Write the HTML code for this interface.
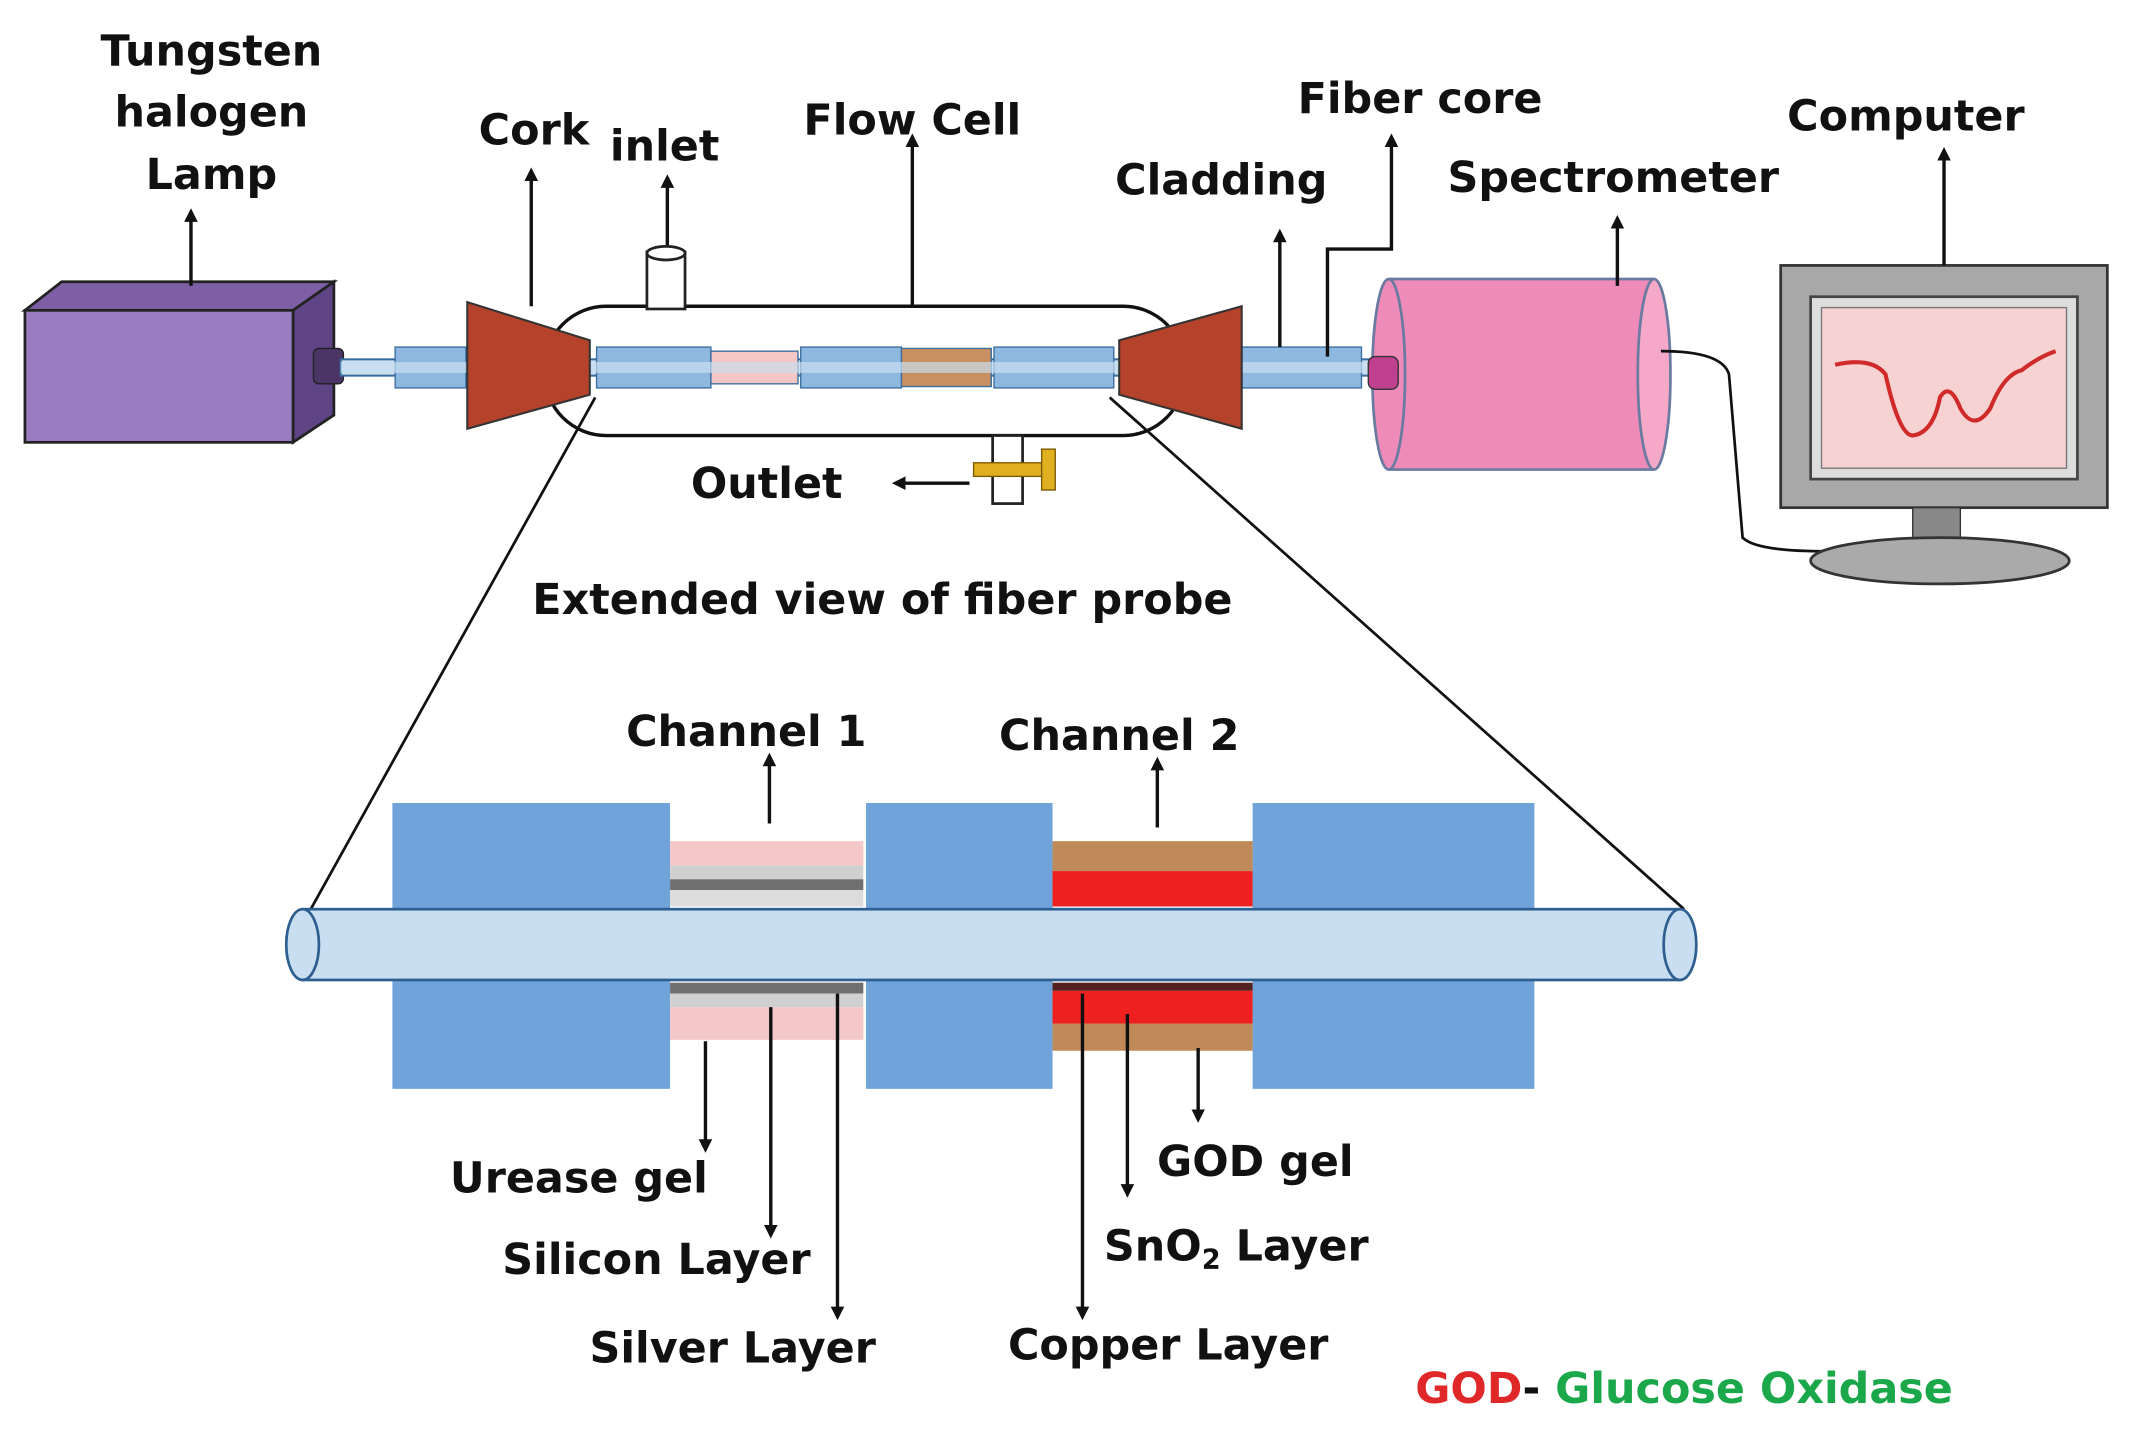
<!DOCTYPE html>
<html><head><meta charset="utf-8"><style>
html,body{margin:0;padding:0;background:#fff;}
svg{display:block}
text{font-family:"DejaVu Sans","Liberation Sans",sans-serif;font-weight:bold;fill:#111;font-size:31.5px}
</style></head><body>
<svg width="2135" height="1440" viewBox="0 0 1568 1058" xmlns="http://www.w3.org/2000/svg">
<defs>
<marker id="a" markerWidth="10" markerHeight="10" refX="5" refY="5" orient="auto" markerUnits="userSpaceOnUse"><path d="M0,0 L10,5 L0,10 z" fill="#111"/></marker>
</defs>
<rect width="1568" height="1058" fill="#fff"/>
<polygon points="18,228 45,207 245,207 215,228" fill="#7e5fa6" stroke="#222" stroke-width="2"/>
<polygon points="215,228 245,207 245,305 215,325" fill="#5f4585" stroke="#222" stroke-width="2"/>
<rect x="18" y="228" width="197" height="97" fill="#9a7cc0" stroke="#222" stroke-width="2"/>
<rect x="230" y="256" width="22" height="26" rx="4" fill="#4a3566" stroke="#222"/>
<rect x="400" y="225" width="470" height="95" rx="45" fill="#fff" stroke="#111" stroke-width="2.5"/>
<rect x="250" y="264" width="760" height="12" fill="#c9def0" stroke="#3a6ea0" stroke-width="1.5"/>
<rect x="475" y="185" width="28" height="42" fill="#fff" stroke="#222" stroke-width="2"/>
<ellipse cx="489" cy="186" rx="14" ry="5" fill="#fff" stroke="#222" stroke-width="2"/>
<rect x="729" y="320" width="22" height="50" fill="#fff" stroke="#222" stroke-width="2"/>
<rect x="715" y="340" width="50" height="10" fill="#e0b020" stroke="#7a5a00"/>
<rect x="765" y="330" width="10" height="30" fill="#e0b020" stroke="#7a5a00"/>
<g stroke="#3a6ea0" stroke-width="1">
<rect x="290" y="255" width="52" height="30" fill="#8fb8e0"/>
<rect x="438" y="255" width="84" height="30" fill="#8fb8e0"/>
<rect x="522" y="258" width="64" height="24" fill="#f4c6c6"/>
<rect x="588" y="255" width="74" height="30" fill="#8fb8e0"/>
<rect x="662" y="256" width="66" height="28" fill="#c89060"/>
<rect x="730" y="255" width="88" height="30" fill="#8fb8e0"/>
<rect x="912" y="255" width="88" height="30" fill="#8fb8e0"/>
</g>
<rect x="250" y="266" width="760" height="8" fill="#c9def0" opacity="0.7"/>
<polygon points="343,222 433,250 433,290 343,315" fill="#b5422a" stroke="#333" stroke-width="1.5"/>
<polygon points="912,225 822,250 822,290 912,315" fill="#b5422a" stroke="#333" stroke-width="1.5"/>
<rect x="1020" y="205" width="195" height="140" fill="#ef8bb8"/>
<ellipse cx="1215" cy="275" rx="12" ry="70" fill="#f6a8c8" stroke="#6a7aa0" stroke-width="2"/>
<line x1="1020" y1="205" x2="1215" y2="205" stroke="#6a7aa0" stroke-width="2"/>
<line x1="1020" y1="345" x2="1215" y2="345" stroke="#6a7aa0" stroke-width="2"/>
<ellipse cx="1020" cy="275" rx="12" ry="70" fill="#ef8bb8" stroke="#6a7aa0" stroke-width="2"/>
<rect x="1005" y="262" width="22" height="24" rx="5" fill="#c04090" stroke="#333"/>
<path d="M1220,258 Q1265,258 1270,275 L1280,395 Q1290,405 1340,405" fill="none" stroke="#111" stroke-width="2"/>
<rect x="1308" y="195" width="240" height="178" fill="#a8a8a8" stroke="#333" stroke-width="2"/>
<rect x="1330" y="218" width="196" height="134" fill="#ddd" stroke="#444" stroke-width="2"/>
<rect x="1338" y="226" width="180" height="118" fill="#f6d2d2" stroke="#777"/>
<path d="M1348,268 Q1375,262 1385,275 Q1395,320 1405,320 Q1420,318 1425,292 Q1432,280 1440,300 Q1450,318 1462,300 Q1472,275 1485,272 Q1498,262 1510,258" fill="none" stroke="#d02a2a" stroke-width="3"/>
<rect x="1405" y="373" width="35" height="25" fill="#888" stroke="#333"/>
<ellipse cx="1425" cy="412" rx="95" ry="17" fill="#aaa" stroke="#333" stroke-width="2"/>
<line x1="437" y1="292" x2="228" y2="668" stroke="#111" stroke-width="2"/>
<line x1="815" y1="292" x2="1237" y2="668" stroke="#111" stroke-width="2"/>
<g fill="#6fa3d9">
<rect x="288" y="590" width="204" height="210"/>
<rect x="636" y="590" width="137" height="210"/>
<rect x="920" y="590" width="207" height="210"/>
</g>
<rect x="492" y="618" width="142" height="18" fill="#f4c8c8"/>
<rect x="492" y="636" width="142" height="10" fill="#d0d0d0"/>
<rect x="492" y="646" width="142" height="8" fill="#707070"/>
<rect x="492" y="654" width="142" height="12" fill="#dcdcdc"/>
<rect x="492" y="722" width="142" height="8" fill="#707070"/>
<rect x="492" y="730" width="142" height="10" fill="#d0d0d0"/>
<rect x="492" y="740" width="142" height="24" fill="#f4c8c8"/>
<rect x="773" y="618" width="147" height="22" fill="#c08a58"/>
<rect x="773" y="640" width="147" height="26" fill="#ee2020"/>
<rect x="773" y="722" width="147" height="6" fill="#552020"/>
<rect x="773" y="728" width="147" height="24" fill="#ee2020"/>
<rect x="773" y="752" width="147" height="20" fill="#c08a58"/>
<rect x="222" y="668" width="1012" height="52" fill="#c9def0" stroke="#2d5f90" stroke-width="2"/>
<ellipse cx="222" cy="694" rx="12" ry="26" fill="#c9def0" stroke="#2d5f90" stroke-width="2"/>
<ellipse cx="1234" cy="694" rx="12" ry="26" fill="#c9def0" stroke="#2d5f90" stroke-width="2"/>
<g stroke="#111" stroke-width="2.5" marker-end="url(#a)" fill="none">
<line x1="140" y1="210" x2="140" y2="158"/>
<line x1="390" y1="225" x2="390" y2="128"/>
<line x1="490" y1="180" x2="490" y2="133"/>
<line x1="670" y1="225" x2="670" y2="103"/>
<polyline points="975,262 975,183 1022,183 1022,103"/>
<line x1="940" y1="255" x2="940" y2="173"/>
<line x1="1188" y1="210" x2="1188" y2="163"/>
<line x1="1428" y1="195" x2="1428" y2="113"/>
<line x1="712" y1="355" x2="660" y2="355"/>
<line x1="565" y1="605" x2="565" y2="558"/>
<line x1="850" y1="608" x2="850" y2="561"/>
<line x1="518" y1="765" x2="518" y2="842"/>
<line x1="566" y1="740" x2="566" y2="905"/>
<line x1="615" y1="730" x2="615" y2="965"/>
<line x1="795" y1="730" x2="795" y2="965"/>
<line x1="828" y1="745" x2="828" y2="875"/>
<line x1="880" y1="770" x2="880" y2="820"/>
</g>
<g text-anchor="middle">
<text x="155" y="48">Tungsten</text>
<text x="155" y="93">halogen</text>
<text x="155" y="139">Lamp</text>
<text x="392" y="106">Cork</text>
<text x="488" y="118">inlet</text>
<text x="670" y="99">Flow Cell</text>
<text x="1043" y="83">Fiber core</text>
<text x="897" y="143">Cladding</text>
<text x="1185" y="141">Spectrometer</text>
<text x="1400" y="96">Computer</text>
<text x="563" y="366">Outlet</text>
<text x="648" y="451">Extended view of fiber probe</text>
<text x="548" y="548">Channel 1</text>
<text x="822" y="551">Channel 2</text>
<text x="425" y="876">Urease gel</text>
<text x="482" y="936">Silicon Layer</text>
<text x="538" y="1001">Silver Layer</text>
<text x="922" y="864">GOD gel</text>
<text x="908" y="926">SnO<tspan font-size="20" dy="6">2</tspan><tspan dy="-6"> Layer</tspan></text>
<text x="858" y="999">Copper Layer</text>
<text x="1237" y="1031"><tspan fill="#e02828">GOD</tspan><tspan fill="#111">-</tspan><tspan fill="#1aa84a"> Glucose Oxidase</tspan></text>
</g>
</svg>
</body></html>
